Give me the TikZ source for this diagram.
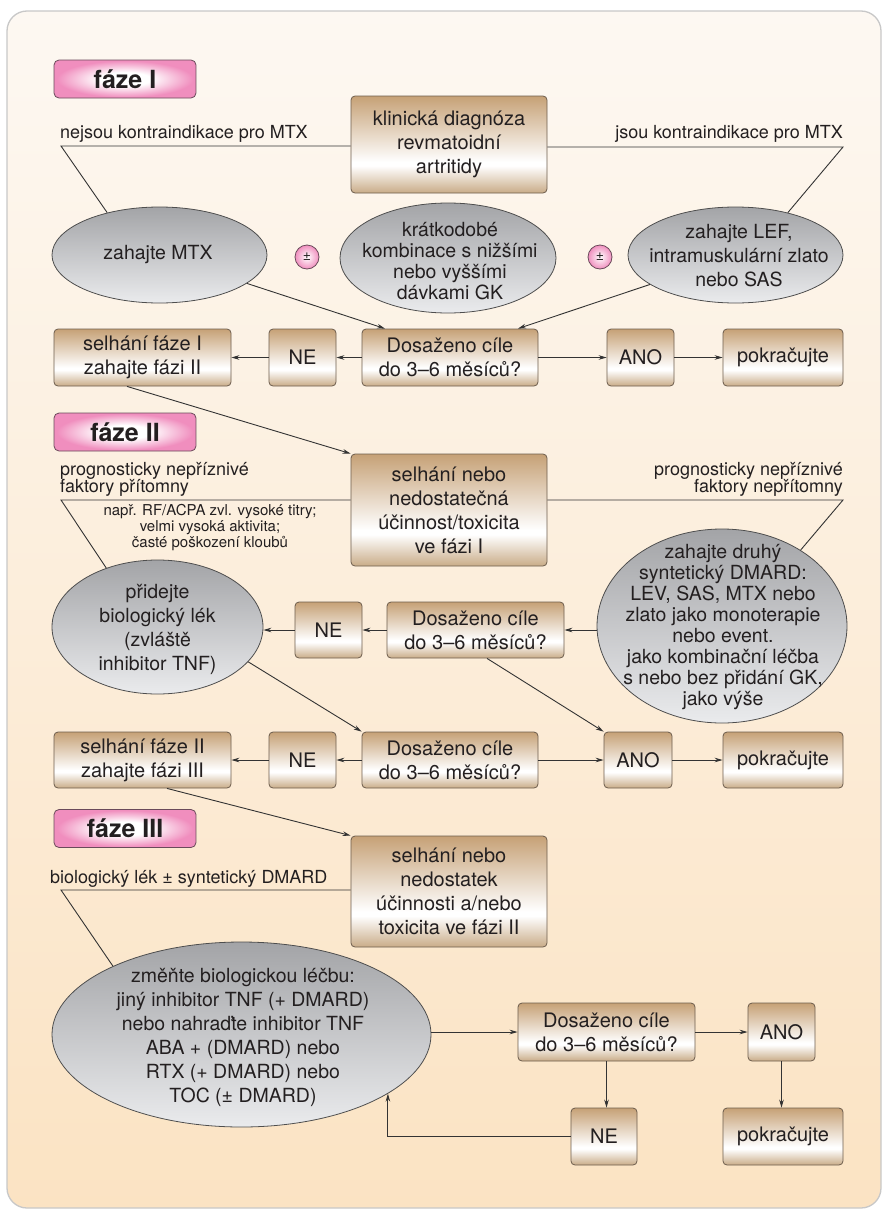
\documentclass[tikz,border=0pt]{standalone}
\usepackage{fontspec}
\setmainfont{TeX Gyre Heros}
\usetikzlibrary{arrows.meta,shapes.geometric,calc}
\definecolor{frameC}{HTML}{C8C8C8}
\definecolor{bgTop}{HTML}{FDF8F2}
\definecolor{bgBot}{HTML}{FBE3C3}
\definecolor{tanT}{HTML}{C6A176}
\definecolor{tanB}{HTML}{C9AC88}
\definecolor{boxD}{HTML}{6D5D4D}
\definecolor{ellT}{HTML}{A3A4A7}
\definecolor{ellB}{HTML}{EAEBED}
\definecolor{ellD}{HTML}{4E4E4E}
\definecolor{pinkC}{HTML}{F08EBE}
\definecolor{phD}{HTML}{6A4A5A}
\definecolor{lineC}{HTML}{333333}
\definecolor{txtC}{HTML}{231F20}
\pgfdeclareverticalshading{boxshade}{100bp}{color(0bp)=(tanB); color(25bp)=(tanB); color(39bp)=(white); color(41bp)=(white); color(75bp)=(tanT); color(100bp)=(tanT)}
\pgfdeclareradialshading{phshade}{\pgfpoint{0bp}{0bp}}{color(0bp)=(white); color(9bp)=(white); color(24bp)=(pinkC); color(50bp)=(pinkC)}
\begin{document}
\begin{tikzpicture}[x=1pt,y=-1pt,
  sz/.style 2 args={minimum width=#1pt, minimum height=#2pt},
  box/.style={draw=boxD, line width=0.8pt, rounded corners=4pt, shading=boxshade, align=center, inner sep=0pt, text=txtC, font=\fontsize{20}{24}\selectfont},
  ell/.style={ellipse, draw=ellD, line width=0.8pt, top color=ellT, bottom color=ellB, inner sep=0pt},
  etext/.style={align=center, inner sep=0pt, text=txtC, font=\fontsize{19.5}{#1}\selectfont},
  lbl/.style={inner sep=0pt, text=txtC, font=\fontsize{18}{17.5}\selectfont},
  small/.style={inner sep=0pt, align=center, text=txtC, font=\fontsize{15}{16}\selectfont},
  phase/.style={draw=phD, line width=0.8pt, rounded corners=5pt, shading=phshade, minimum width=142pt, minimum height=38pt, inner sep=0pt, text=txtC, font=\fontsize{25}{25}\selectfont\bfseries},
  pm/.style={circle, draw=phD, line width=0.8pt, inner color=white, outer color=pinkC, minimum size=24pt, inner sep=0pt, text=txtC, font=\fontsize{14}{14}\selectfont},
  conn/.style={draw=lineC, line width=0.9pt},
  arr/.style={conn, -{Stealth[length=8pt,width=4.6pt]}},
]
\useasboundingbox (0,0) rectangle (883,1210);
\draw[frameC, line width=1.3pt, rounded corners=20pt, top color=bgTop, bottom color=bgBot] (7,11) rectangle (881,1208);

% ---------- phase I ----------
\node[phase] (ph1) at (125,79) {fáze I};
\node[box, sz={196}{97}] (k1) at (449,144.5) {klinická diagnóza\\revmatoidní\\artritidy};
\node[lbl, anchor=base west] (l1) at (60,138) {nejsou kontraindikace pro MTX};
\node[lbl, anchor=base east] (l2) at (843,138) {jsou kontraindikace pro MTX};

\node[ell, sz={215}{96}] (mtx) at (159.5,255) {};
\node[etext=24] (mtxT) at (158,255) {zahajte MTX};
\node[pm] (pm1) at (307,257) {±};
\node[ell, sz={216}{110}] (gk) at (448,258) {};
\node[etext=21] (gkT) at (450,261) {krátkodobé\\kombinace s nižšími\\nebo vyššími\\dávkami GK};
\node[pm] (pm2) at (600,257) {±};
\node[ell, sz={215}{96}] (lef) at (735.5,255) {};
\node[etext=24] (lefT) at (739,256) {zahajte LEF,\\intramuskulární zlato\\nebo SAS};

\node[box, sz={177}{57}] (s1) at (142.5,357.5) {selhání fáze I\\zahajte fázi II};
\node[box, sz={67}{57}] (n1) at (302.5,357.5) {NE};
\node[box, sz={176}{57}] (d1) at (450,357.5) {Dosaženo cíle\\do 3–6 měsíců?};
\node[box, sz={67}{57}] (a1) at (640.5,357.5) {ANO};
\node[box, sz={120}{57}] (p1) at (783,357.5) {pokračujte};

\coordinate (c1) at (61,146);
\coordinate (c2) at (843,147);
\draw[conn] (k1.west |- c1) -- (c1) -- (mtx.141);
\draw[conn] (k1.east |- c2) -- (c2) -- (lef.39);
\draw[arr] (mtx.-18) -- ([xshift=-65pt]d1.north);
\draw[arr] (lef.199) -- ([xshift=68pt]d1.north);
\draw[arr] (d1.west) -- (n1.east);
\draw[arr] (n1.west) -- (s1.east);
\draw[arr] (d1.east) -- (a1.west);
\draw[arr] (a1.east) -- (p1.west);

% ---------- phase II ----------
\node[phase] (ph2) at (125,432) {fáze II};
\node[box, sz={196}{112}] (k2) at (449,510) {selhání nebo\\nedostatečná\\účinnost/toxicita\\ve fázi I};
\draw[arr] ([xshift=-15.5pt]s1.south) -- (k2.north west);
\node[lbl, anchor=south west, align=left] (l3) at (60,497) {prognosticky nepříznivé\\faktory přítomny};
\node[lbl, anchor=south east, align=right] (l4) at (843,497) {prognosticky nepříznivé\\faktory nepřítomny};
\node[small] (l5) at (210,528) {např. RF/ACPA zvl. vysoké titry;\\velmi vysoká aktivita;\\časté poškození kloubů};

\node[ell, sz={211}{134}] (bio) at (157.5,627) {};
\node[etext=24] (bioT) at (157.5,629) {přidejte\\biologický lék\\(zvláště\\inhibitor TNF)};
\node[box, sz={67}{56}] (n2) at (328.5,630) {NE};
\node[box, sz={177}{56}] (d2) at (475.5,630) {Dosaženo cíle\\do 3–6 měsíců?};
\node[ell, sz={250}{194}] (dm) at (722,626) {};
\node[etext=21] (dmT) at (723,627) {zahajte druhý\\syntetický DMARD:\\LEV, SAS, MTX nebo\\zlato jako monoterapie\\nebo event.\\jako kombinační léčba\\s nebo bez přidání GK,\\jako výše};

\coordinate (c3) at (61,500);
\coordinate (c4) at (843,500);
\draw[conn] ([yshift=10pt]k2.west) -- (c3) -- (bio.131);
\draw[conn] ([yshift=10pt]k2.east) -- (c4) -- (dm.44);
\draw[arr] (d2.east -| dm.west) -- (d2.east);
\draw[arr] (d2.west) -- (n2.east);
\draw[arr] (n2.west) -- (n2.west -| bio.east);

\node[box, sz={177}{56}] (s3) at (142.5,760) {selhání fáze II\\zahajte fázi III};
\node[box, sz={67}{56}] (n3) at (302.5,760) {NE};
\node[box, sz={176}{56}] (d3) at (450,760) {Dosaženo cíle\\do 3–6 měsíců?};
\node[box, sz={68}{56}] (a3) at (638,760) {ANO};
\node[box, sz={120}{56}] (p3) at (783,760) {pokračujte};

\draw[arr] (bio.-21) -- (d3.north west);
\draw[arr] ([xshift=11.5pt]d2.south) -- (a3.north west);
\draw[arr] (d3.west) -- (n3.east);
\draw[arr] (n3.west) -- (s3.east);
\draw[arr] (d3.east) -- (a3.west);
\draw[arr] (a3.east) -- (p3.west);

% ---------- phase III ----------
\node[phase] (ph3) at (125,828.5) {fáze III};
\node[box, sz={196}{111}] (k3) at (449,891.5) {selhání nebo\\nedostatek\\účinnosti a/nebo\\toxicita ve fázi II};
\draw[arr] ([xshift=24.5pt]s3.south) -- (k3.north west);
\node[lbl, anchor=base west] (l6) at (50,883) {biologický lék ± syntetický DMARD};

\node[ell, sz={379}{185}] (chg) at (241.5,1034.5) {};
\node[etext=24] (chgT) at (243,1037) {změňte biologickou léčbu:\\jiný inhibitor TNF (+ DMARD)\\nebo nahraďte inhibitor TNF\\ABA + (DMARD) nebo\\RTX (+ DMARD) nebo\\TOC (± DMARD)};

\node[box, sz={177}{58}] (d4) at (606.5,1032) {Dosaženo cíle\\do 3–6 měsíců?};
\node[box, sz={67}{58}] (a4) at (781.5,1032) {ANO};
\node[box, sz={66}{57}] (n4) at (604,1136.5) {NE};
\node[box, sz={120}{57}] (p4) at (783,1136.5) {pokračujte};

\coordinate (c5) at (61,890);
\draw[conn] (k3.west |- c5) -- (c5) -- (chg.152);
\draw[arr] (d4.west -| chg.east) -- (d4.west);
\draw[arr] (d4.east) -- (a4.west);
\draw[arr] (d4.south) -- (d4.south |- n4.north);
\draw[arr] (a4.south) -- (a4.south |- p4.north);
\draw[arr] (n4.west) -| (chg.-22.5);
\end{tikzpicture}
\end{document}
